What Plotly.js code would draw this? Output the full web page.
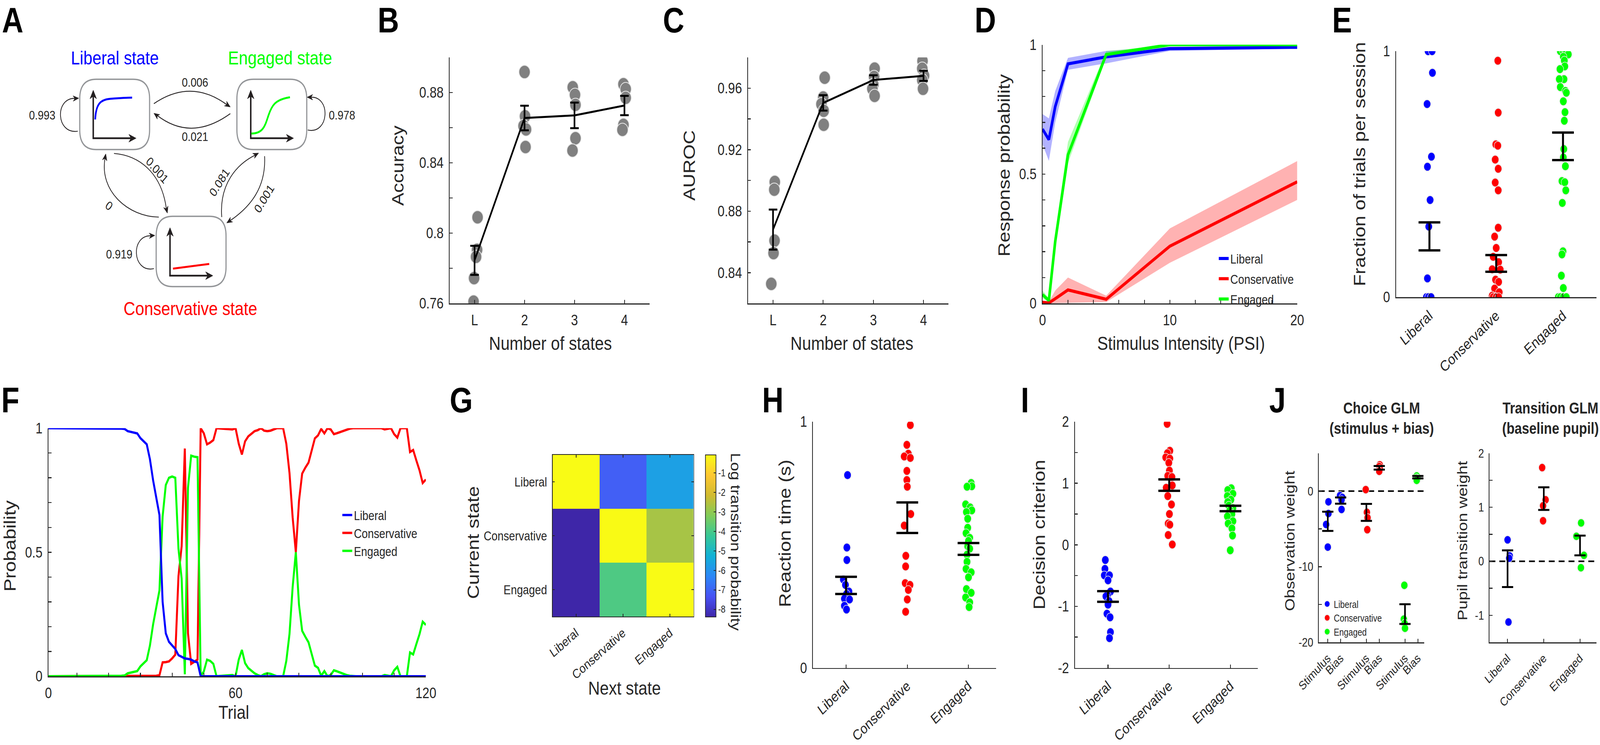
<!DOCTYPE html>
<html><head><meta charset="utf-8">
<script src="https://cdn.plot.ly/plotly-3.0.1.min.js"></script>
<style>html,body{margin:0;padding:0;background:#fff;overflow:hidden;}#wrap{overflow:hidden;width:4856px;height:1908px;}#fig{width:4856px;height:1908px;transform-origin:0 0;}</style>
</head><body><div id="wrap"><div id="fig"></div></div>
<script>
// ================= DATA =================
const stateNames = ['Liberal','Conservative','Engaged'];
// A: state diagram
const A_stateTitles = ['Liberal state','Engaged state','Conservative state'];
const A_transLabels = ['0.993','0.006','0.021','0.001','0','0.919','0.081','0.001','0.978'];
// B: accuracy
const B_cats = [1,2,3,4];
const B_tickText = ['L','2','3','4'];
const B_dots = [[0.809,0.7905,0.7865,0.7744,0.761],[0.8917,0.8665,0.861,0.859,0.849],[0.883,0.8787,0.873,0.854,0.847],[0.8847,0.882,0.877,0.8616,0.8588]];
const B_dx = [[0.06,0.05,0.03,-0.01,-0.02],[0.0,0.01,-0.02,0.03,0.02],[-0.035,0.01,0.02,0.02,-0.04],[-0.02,0.025,0.025,-0.02,-0.04]];
const B_mean = [0.7845,0.8655,0.867,0.8726];
const B_sem = [0.0083,0.007,0.0073,0.0055];
// C: AUROC
const C_dots = [[0.899,0.894,0.8608,0.8527,0.8327],[0.9668,0.9539,0.9496,0.9453,0.9362],[0.9727,0.9673,0.9622,0.9596,0.955],[0.9777,0.9727,0.9681,0.9653,0.9596]];
const C_dx = [[0.035,0.025,0.03,0.01,-0.035],[0.03,0.0,-0.035,0.01,0.01],[0.025,0.015,0,-0.02,0.025],[-0.02,-0.025,0.01,-0.025,-0.01]];
const C_mean = [0.868,0.9504,0.9653,0.968];
const C_sem = [0.013,0.005,0.0031,0.0033];
// D: psychometric curves
const D_x = [0,0.5,1,2,5,10,20];
const D_lib = [0.674,0.633,0.761,0.926,0.953,0.985,0.99];
const D_libHi = [0.732,0.715,0.821,0.949,0.976,0.992,0.995];
const D_libLo = [0.615,0.551,0.70,0.903,0.928,0.976,0.985];
const D_con = [0.004,0.002,0.018,0.052,0.016,0.221,0.47];
const D_conHi = [0.01,0.006,0.05,0.10,0.03,0.29,0.55];
const D_conLo = [0,0,0,0.002,0.005,0.157,0.40];
const D_eng = [0.034,0.011,0.24,0.574,0.962,1.0,1.0];
const D_engHi = [0.05,0.02,0.27,0.624,0.975,1.0,1.0];
const D_engLo = [0.02,0.005,0.21,0.542,0.95,0.998,0.998];
// E: fraction of trials per session
const E_lib = [1,1,0.912,0.785,0.571,0.530,0.395,0.287,0.076,0,0,0];
const E_libDx = [-0.02,0.04,0.045,-0.035,0.03,-0.03,0.01,-0.01,-0.03,-0.045,-0.015,0.025];
const E_con = [0.961,0.75,0.621,0.616,0.559,0.522,0.466,0.434,0.282,0.246,0.2,0.164,0.142,0.113,0.112,0.071,0.062,0.035,0.02,0.006,0,0,0];
const E_conDx = [0.024,0.03,-0.006,0.024,-0.015,0.03,-0.015,0.03,0.03,-0.024,0,-0.045,0.036,-0.06,0.06,-0.01,0.036,-0.024,0.045,-0.06,-0.045,0,0.036];
const E_eng = [1,1,1,1,0.987,0.977,0.962,0.938,0.927,0.886,0.886,0.854,0.838,0.831,0.796,0.752,0.717,0.602,0.568,0.532,0.472,0.467,0.434,0.383,0.186,0.174,0.0875,0.037,0,0,0,0];
const E_engDx = [-0.04,0.005,0.035,0.05,0.08,0.005,0.02,0.027,-0.045,0.015,-0.055,-0.04,0.036,0.05,0.005,0.03,0.02,0.012,0.005,0.036,-0.015,0.027,0.042,-0.01,0,-0.015,-0.024,0.005,-0.07,-0.04,0.005,0.05];
const E_mean = [0.247,0.137,0.613];
const E_sem = [0.057,0.034,0.056];
// F: example session posterior probabilities (trials 1..120)
const F_lib = [1,1,1,1,1,1,1,1,1,1, 1,1,1,1,1,1,1,1,1,1,
  1,1,0.999,0.998,0.997,0.988,0.985,0.982,0.979,0.96,
  0.947,0.935,0.875,0.79,0.72,0.65,0.30,0.173,0.139,0.125,
  0.11,0.085,0.078,0.072,0.07,0.067,0.06,0.056,0,0,
  0,0,0,0,0,0,0,0,0,0, 0,0,0,0,0,0,0,0,0,0, 0,0,0,0,0,0,0,0,0,0,
  0,0,0,0,0,0,0,0,0,0, 0,0,0,0,0,0,0,0,0,0, 0,0,0,0,0,0,0,0,0,0, 0,0,0,0,0,0,0,0,0,0];
const F_con = [0,0,0,0,0,0,0,0,0,0, 0,0,0,0,0,0,0,0,0,0, 0,0,0,0,0,0,0,0,0,0,
  0,0,0.001,0.001,0.002,0.004,0.056,0.057,0.06,0.072,
  0.087,0.404,0.524,0.918,0.173,0.05,0.058,0.067,1.0,0.979,
  0.935,0.942,0.952,1.0,0.999,0.998,0.998,0.996,0.995,1.0,
  0.9375,0.894,0.947,0.967,0.978,0.988,0.992,1.0,0.99,0.988,
  0.99,0.995,1.0,1.0,1.0,0.9375,0.82,0.64,0.5,0.707,
  0.817,0.841,0.861,0.91,0.959,0.971,0.997,0.979,1.0,0.995,
  0.976,0.98,0.985,0.99,0.995,0.998,1,1,1,1,
  1,1,1,1,1,1,0.995,0.997,1.0,0.976,
  0.962,1,1,1,0.904,0.912,0.87,0.83,0.779,0.793];
const F_eng = [0,0,0,0,0,0,0,0,0,0, 0,0,0,0,0,0,0,0,0,0,
  0,0,0,0.002,0.003,0.012,0.015,0.018,0.021,0.04,
  0.053,0.065,0.124,0.209,0.278,0.346,0.644,0.771,0.80,0.805,
  0.80,0.514,0.394,0.008,0.76,0.889,0.885,0.883,0,0.02,
  0.067,0.062,0.05,0,0.001,0.002,0.002,0.004,0.005,0,
  0.067,0.106,0.053,0.033,0.022,0.012,0.005,0,0.008,0.012,
  0.01,0.005,0,0,0,0.062,0.17,0.36,0.5,0.288,
  0.183,0.159,0.137,0.09,0.043,0.034,0.002,0.021,0,0.005,
  0.024,0.02,0.015,0.008,0.005,0.002,0,0,0,0,
  0,0,0,0,0,0,0.005,0.003,0,0.024,
  0.038,0,0,0,0.096,0.088,0.13,0.17,0.22,0.207];
const F_trials = F_lib.map((_, i) => i + 1);
// G: log transition probability (rows: current state, cols: next state)
const G_z = [[-0.007,-7.1,-5.7],[-8.39,-0.084,-2.7],[-8.39,-3.9,-0.022]];
const G_cbTicks = [-8,-7,-6,-5,-4,-3,-2,-1];
// H: reaction time
const H_lib = [0.783,0.489,0.438,0.359,0.337,0.31,0.30,0.281,0.278,0.252,0.237];
const H_libDx = [0.024,0.013,0.013,-0.044,-0.01,0.047,0.007,-0.027,0.057,-0.027,0.007];
const H_con = [0.986,0.906,0.870,0.859,0.853,0.8,0.763,0.736,0.625,0.578,0.455,0.412,0.344,0.337,0.317,0.278,0.228];
const H_conDx = [0.05,-0.007,0.017,-0.05,0.05,-0.007,-0.007,0,0.057,-0.05,-0.024,-0.027,-0.034,0.044,0.017,0,-0.027];
const H_eng = [0.751,0.738,0.736,0.664,0.652,0.640,0.633,0.606,0.569,0.547,0.528,0.516,0.494,0.484,0.46,0.431,0.402,0.388,0.368,0.32,0.305,0.286,0.266,0.247];
const H_engDx = [0.044,0.054,-0.024,-0.047,0.027,0.054,-0.034,-0.013,-0.013,-0.04,0.02,0,-0.013,0.02,-0.024,-0.024,-0.04,0.044,0,-0.034,0.044,-0.047,0.02,0.01];
const H_mean = [0.335,0.61,0.483];
const H_sem = [0.035,0.062,0.024];
// I: decision criterion
const I_lib = [-0.248,-0.391,-0.496,-0.496,-0.578,-0.76,-0.818,-0.837,-0.915,-0.973,-1.12,-1.178,-1.419,-1.516];
const I_libDx = [-0.044,-0.05,-0.06,0.024,0,0.04,-0.01,-0.034,0.017,0,-0.017,0.034,0.04,0.024];
const I_con = [1.965,1.527,1.488,1.419,1.4,1.333,1.205,1.12,1.1,0.965,0.926,0.791,0.655,0.5,0.345,0.326,0.159,0.004];
const I_conDx = [-0.034,0.01,-0.03,-0.057,0.01,-0.007,0.003,-0.024,0.044,0.05,-0.05,-0.024,0.037,0.003,-0.017,0.01,-0.017,0.05];
const I_eng = [0.919,0.888,0.83,0.791,0.733,0.694,0.636,0.597,0.558,0.5,0.461,0.384,0.345,0.267,0.151,-0.089];
const I_engDx = [0.013,-0.044,0.04,-0.05,0.007,-0.044,-0.027,0.04,-0.01,0.024,-0.05,0.04,-0.037,0.024,0.034,-0.003];
const I_mean = [-0.84,0.97,0.59];
const I_sem = [0.086,0.093,0.045];
// J left: choice GLM weights (stimulus, bias) per state
const J1_pos = [[1,2],[4,5],[7,8]];
const J1_tickText = ['Stimulus','Bias','Stimulus','Bias','Stimulus','Bias'];
const J1_stim = [[-1.42,-2.97,-4.42,-7.41],[0.19,-2.81,-3.53,-5.11],[-12.46,-16.94,-17.5,-18.14]];
const J1_stimDx = [[0.05,0.05,-0.13,0],[-0.05,0.04,0.09,0.07],[-0.05,-0.09,-0.03,0]];
const J1_bias = [[-0.6,-0.85,-1.17,-2.43],[3.47,3.25,2.93,2.62],[1.99,1.74,1.61,1.42]];
const J1_biasDx = [[-0.05,0.13,0.07,0.07],[0.04,0,0.04,0],[-0.09,-0.09,-0.03,-0.09]];
const J1_mean = [[-4.0,-1.26],[-2.82,3.075],[-16.27,1.83]];
const J1_sem = [[1.27,0.41],[1.12,0.235],[1.3,0.16]];
// J right: transition GLM (pupil) weights
const J2_vals = [[0.397,0.10,0.057,-1.125],[1.734,1.138,1.028,0.75],[0.71,0.463,0.11,-0.119]];
const J2_dx = [[0,0.06,0.045,0.025],[-0.045,0.05,-0.02,-0.02],[0.03,-0.1,0.11,0.025]];
const J2_mean = [-0.137,1.16,0.293];
const J2_sem = [0.34,0.21,0.183];

// ================= STYLE / LAYOUT =================
const W = 4856, H = 1908;
const X = p => p / W, Y = p => 1 - p / H;
const FONT = 'Liberation Sans, Arial, Helvetica, sans-serif';
const AX = '#262626', INK = '#231f20';
const COL = ['#0000ff', '#ff0000', '#00ff00'];
const DOTLINE = {color: '#e6e6e6', width: 1.5};

function axis(o) {
  return Object.assign({
    showline: true, linecolor: AX, linewidth: 2.5, ticks: 'inside', ticklen: 9, tickwidth: 2.5,
    tickcolor: AX, tickfont: {family: FONT, size: 38, color: AX}, showgrid: false, zeroline: false,
    fixedrange: true, mirror: false, ticklabelstandoff: 8
  }, o);
}
function steps(a, b, s) { const r = []; for (let v = a; v <= b + 1e-9; v += s) r.push(+v.toFixed(4)); return r; }

const layout = {
  width: W, height: H, margin: {l: 0, r: 0, t: 0, b: 0}, paper_bgcolor: '#fff', plot_bgcolor: 'rgba(0,0,0,0)',
  font: {family: FONT, color: AX}, showlegend: true, shapes: [], annotations: [],
  xaxis: axis({domain: [X(1364.5), X(1971)], range: [0.5, 4.5], anchor: 'y', tickvals: B_cats, ticktext: B_tickText}),
  yaxis: axis({domain: [Y(777), Y(147)], range: [0.76, 0.90], anchor: 'x', tickvals: steps(0.76, 0.90, 0.02),
    ticktext: ['0.76', '', '0.8', '', '0.84', '', '0.88', '']}),
  xaxis2: axis({domain: [X(2270), X(2879)], range: [0.5, 4.5], anchor: 'y2', tickvals: B_cats, ticktext: B_tickText}),
  yaxis2: axis({domain: [Y(777), Y(147)], range: [0.82, 0.98], anchor: 'x2', tickvals: steps(0.82, 0.98, 0.02),
    ticktext: ['', '0.84', '', '0.88', '', '0.92', '', '0.96', '']}),
  xaxis3: axis({domain: [X(3164), X(3937)], range: [0, 20], anchor: 'y3', tickvals: steps(0, 20, 2),
    ticktext: ['0', '', '', '', '', '10', '', '', '', '', '20']}),
  yaxis3: axis({domain: [Y(777), Y(114.5)], range: [0, 1], anchor: 'x3', tickvals: steps(0, 1, 0.1),
    ticktext: ['0', '', '', '', '', '0.5', '', '', '', '', '1']}),
  xaxis4: axis({domain: [X(4237), X(4845)], range: [0.5, 3.5], anchor: 'y4', tickvals: [1, 2, 3], ticktext: stateNames, tickangle: -40}),
  yaxis4: axis({domain: [Y(761), Y(131)], range: [0, 1], anchor: 'x4', tickvals: [0, 1], ticktext: ['0', '1']}),
  xaxis5: axis({domain: [X(147), X(1292.5)], range: [1, 120], anchor: 'y5', tickvals: [1].concat(steps(10, 120, 10)),
    ticktext: ['0', '', '', '', '', '', '60', '', '', '', '', '', '120']}),
  yaxis5: axis({domain: [Y(1732), Y(1096.6)], range: [0, 1], anchor: 'x5', tickvals: steps(0, 1, 0.1),
    ticktext: ['0', '', '', '', '', '0.5', '', '', '', '', '1']}),
  xaxis6: axis({domain: [X(1677), X(2105)], anchor: 'y6', mirror: 'ticks', ticklen: 7, tickangle: -37,
    tickfont: {family: FONT, size: 33, color: AX}, linewidth: 2}),
  yaxis6: axis({domain: [Y(1579), Y(1165)], anchor: 'x6', mirror: 'ticks', ticklen: 7, autorange: 'reversed',
    tickfont: {family: FONT, size: 33, color: AX}, linewidth: 2}),
  xaxis7: axis({domain: [X(2467.5), X(3023)], range: [0.46, 3.45], anchor: 'y7', tickvals: [1, 2, 3], ticktext: stateNames,
    tickangle: -40, tickfont: {family: FONT, size: 37, color: AX}}),
  yaxis7: axis({domain: [Y(1710.5), Y(1080)], range: [0, 1], anchor: 'x7', tickvals: [0, 1], ticktext: ['0', '1']}),
  xaxis8: axis({domain: [X(3262.5), X(3818)], range: [0.46, 3.45], anchor: 'y8', tickvals: [1, 2, 3], ticktext: stateNames,
    tickangle: -40, tickfont: {family: FONT, size: 37, color: AX}}),
  yaxis8: axis({domain: [Y(1710.5), Y(1080)], range: [-2, 2], anchor: 'x8', tickvals: steps(-2, 2, 0.5),
    ticktext: ['-2', '', '-1', '', '0', '', '1', '', '2']}),
  xaxis9: axis({domain: [X(4002.5), X(4322.7)], range: [0.3, 8.5], anchor: 'y9', tickvals: [1, 2, 4, 5, 7, 8], ticktext: J1_tickText,
    tickangle: -43, tickfont: {family: FONT, size: 31, color: AX}}),
  yaxis9: axis({domain: [Y(1645), Y(1160.8)], range: [-20, 5], anchor: 'x9', tickvals: steps(-20, 5, 5),
    ticktext: ['-20', '', '-10', '', '0', ''], tickfont: {family: FONT, size: 31, color: AX}}),
  xaxis10: axis({domain: [X(4520.5), X(4844.8)], range: [0.5, 3.45], anchor: 'y10', tickvals: [1, 2, 3], ticktext: stateNames,
    tickangle: -43, tickfont: {family: FONT, size: 31, color: AX}}),
  yaxis10: axis({domain: [Y(1645), Y(1160.8)], range: [-1.5, 2], anchor: 'x10', tickvals: steps(-1.5, 2, 0.5),
    ticktext: ['', '-1', '', '0', '', '1', '', '2'], tickfont: {family: FONT, size: 31, color: AX}}),
  legend: {x: X(3694), y: Y(634), xanchor: 'left', yanchor: 'top', bgcolor: 'rgba(0,0,0,0)',
    font: {family: FONT, size: 33, color: AX}, tracegroupgap: 6, traceorder: 'grouped'},
  legend2: {x: X(1034), y: Y(1291), xanchor: 'left', yanchor: 'top', bgcolor: 'rgba(0,0,0,0)',
    font: {family: FONT, size: 33, color: AX}, traceorder: 'normal'},
  legend3: {x: X(4008), y: Y(1524), xanchor: 'left', yanchor: 'top', bgcolor: 'rgba(0,0,0,0)',
    font: {family: FONT, size: 25, color: AX}, traceorder: 'normal'}
};

const traces = [];
function dots(xa, ya, xc, dx, ys, color, size, extra) {
  traces.push(Object.assign({type: 'scatter', mode: 'markers', xaxis: xa, yaxis: ya,
    x: ys.map((_, j) => xc + dx[j]), y: ys, marker: {size: size, color: color, line: DOTLINE},
    showlegend: false, hoverinfo: 'skip'}, extra || {}));
}
function errs(xa, ya, xs, means, sems, cap, thick) {
  traces.push({type: 'scatter', mode: 'markers', xaxis: xa, yaxis: ya, x: xs, y: means,
    marker: {size: 1, color: 'rgba(0,0,0,0)'},
    error_y: {type: 'data', array: sems, color: '#000', thickness: thick, width: cap},
    showlegend: false, hoverinfo: 'skip'});
}

// ---- B & C ----
[['x', 'y', B_dots, B_dx, B_mean, B_sem], ['x2', 'y2', C_dots, C_dx, C_mean, C_sem]].forEach(p => {
  B_cats.forEach((c, i) => traces.push({type: 'scatter', mode: 'markers', xaxis: p[0], yaxis: p[1],
    x: p[2][i].map((_, j) => c + p[3][i][j]), y: p[2][i],
    marker: {size: 34, color: '#808080', line: {color: '#e6e6e6', width: 2}}, showlegend: false, hoverinfo: 'skip'}));
  traces.push({type: 'scatter', mode: 'lines', xaxis: p[0], yaxis: p[1], x: B_cats, y: p[4],
    line: {color: '#000', width: 5}, error_y: {type: 'data', array: p[5], color: '#000', thickness: 5, width: 13},
    showlegend: false, hoverinfo: 'skip'});
});

// ---- D ----
[[D_libHi, D_libLo, 'rgba(0,0,255,0.3)'], [D_conHi, D_conLo, 'rgba(255,0,0,0.3)'], [D_engHi, D_engLo, 'rgba(0,255,0,0.3)']].forEach(b => {
  traces.push({type: 'scatter', mode: 'lines', xaxis: 'x3', yaxis: 'y3', x: D_x.concat(D_x.slice().reverse()),
    y: b[0].concat(b[1].slice().reverse()), fill: 'toself', fillcolor: b[2], line: {width: 0, color: b[2]},
    showlegend: false, hoverinfo: 'skip'});
});
[[D_lib, 0], [D_con, 1], [D_eng, 2]].forEach(s => {
  traces.push({type: 'scatter', mode: 'lines', xaxis: 'x3', yaxis: 'y3', x: D_x, y: s[0], name: stateNames[s[1]],
    line: {color: COL[s[1]], width: 8}, legend: 'legend', legendgroup: 'd' + s[1], hoverinfo: 'skip'});
});

// ---- E ----
dots('x4', 'y4', 1, E_libDx, E_lib, COL[0], 22);
dots('x4', 'y4', 2, E_conDx, E_con, COL[1], 22);
dots('x4', 'y4', 3, E_engDx, E_eng, COL[2], 22);
errs('x4', 'y4', [1, 2, 3], E_mean, E_sem, 33, 6);

// ---- F ----
[[F_con, 1], [F_eng, 2], [F_lib, 0]].forEach(s => {
  traces.push({type: 'scatter', mode: 'lines', xaxis: 'x5', yaxis: 'y5', x: F_trials, y: s[0], name: stateNames[s[1]],
    line: {color: COL[s[1]], width: 6}, legend: 'legend2', legendrank: s[1] + 1, hoverinfo: 'skip'});
});

// ---- G ----
const parula = [[0, '#3e26a8'], [0.125, '#4852f4'], [0.25, '#2d87f7'], [0.375, '#12b1d6'], [0.5, '#37c897'],
  [0.625, '#81cc59'], [0.75, '#d1bb30'], [0.875, '#fec832'], [1, '#f9fb15']];
traces.push({type: 'heatmap', xaxis: 'x6', yaxis: 'y6', x: stateNames, y: stateNames, z: G_z,
  colorscale: parula, zmin: -8.39, zmax: -0.07, hoverinfo: 'skip',
  colorbar: {x: X(2141), xanchor: 'left', y: Y(1165), yanchor: 'top', len: (1580 - 1165) / H, lenmode: 'fraction',
    thickness: 31.5, xpad: 0, ypad: 0, outlinewidth: 2, outlinecolor: AX, tickvals: G_cbTicks,
    ticktext: G_cbTicks.map(String), ticks: 'inside', ticklen: 7, tickwidth: 2, tickcolor: AX,
    tickfont: {family: FONT, size: 25, color: AX}}});

// ---- H ----
dots('x7', 'y7', 1, H_libDx, H_lib, COL[0], 22);
dots('x7', 'y7', 2, H_conDx, H_con, COL[1], 22);
dots('x7', 'y7', 3, H_engDx, H_eng, COL[2], 22);
errs('x7', 'y7', [1, 2, 3], H_mean, H_sem, 33, 6);

// ---- I ----
dots('x8', 'y8', 1, I_libDx, I_lib, COL[0], 22);
dots('x8', 'y8', 2, I_conDx, I_con, COL[1], 22);
dots('x8', 'y8', 3, I_engDx, I_eng, COL[2], 22);
errs('x8', 'y8', [1, 2, 3], I_mean, I_sem, 33, 6);

// ---- J left ----
[0, 1, 2].forEach(k => {
  const xs = J1_stim[k].map((_, j) => J1_pos[k][0] + J1_stimDx[k][j]).concat(J1_bias[k].map((_, j) => J1_pos[k][1] + J1_biasDx[k][j]));
  traces.push({type: 'scatter', mode: 'markers', xaxis: 'x9', yaxis: 'y9', x: xs, y: J1_stim[k].concat(J1_bias[k]),
    marker: {size: 21, color: COL[k], line: DOTLINE}, name: stateNames[k], legend: 'legend3', hoverinfo: 'skip'});
});
errs('x9', 'y9', [1, 2, 4, 5, 7, 8], [].concat(...J1_mean), [].concat(...J1_sem), 17, 5);

// ---- J right ----
[0, 1, 2].forEach(k => dots('x10', 'y10', k + 1, J2_dx[k], J2_vals[k], COL[k], 21));
errs('x10', 'y10', [1, 2, 3], J2_mean, J2_sem, 17, 5);

['9', '10'].forEach(n => layout.shapes.push({type: 'line', xref: 'x' + n + ' domain', x0: 0, x1: 1, yref: 'y' + n, y0: 0, y1: 0,
  line: {color: '#000', width: 4, dash: '18px,12px'}, layer: 'below'}));

// ================= PANEL A DIAGRAM =================
function P(d) { return d.replace(/(-?\d*\.?\d+),(-?\d*\.?\d+)/g, (m, a, b) => (a / W).toFixed(6) + ',' + (1 - b / H).toFixed(6)); }
function pathShape(d, color, width, fill) {
  return {type: 'path', xref: 'paper', yref: 'paper', path: P(d), line: {color: color, width: width},
    fillcolor: fill || 'rgba(0,0,0,0)', layer: 'above'};
}
function rrect(x0, y0, x1, y1, r) {
  return `M ${x0 + r},${y0} L ${x1 - r},${y0} Q ${x1},${y0} ${x1},${y0 + r} L ${x1},${y1 - r} Q ${x1},${y1} ${x1 - r},${y1} ` +
    `L ${x0 + r},${y1} Q ${x0},${y1} ${x0},${y1 - r} L ${x0},${y0 + r} Q ${x0},${y0} ${x0 + r},${y0} Z`;
}
function head(tx, ty, dx, dy, L, w) {
  const n = Math.hypot(dx, dy), ux = dx / n, uy = dy / n, px = -uy, py = ux;
  const bx = tx - ux * L, by = ty - uy * L, mx = tx - ux * L * 0.7, my = ty - uy * L * 0.7;
  const f = v => v.toFixed(2);
  return `M ${f(tx)},${f(ty)} L ${f(bx + px * w)},${f(by + py * w)} L ${f(mx)},${f(my)} L ${f(bx - px * w)},${f(by - py * w)} Z`;
}
const S = layout.shapes;
[[242, 203, 454, 383], [719, 203, 931, 383], [474, 554, 686, 734]].forEach(b => S.push(pathShape(rrect(b[0], b[1], b[2], b[3], 50), '#939598', 3.5)));
[[283, 354], [761, 354], [516, 706]].forEach(o => {
  const [ox, oy] = o;
  S.push(pathShape(`M ${ox},${oy + 2} L ${ox},${oy - 112}`, INK, 4.5));
  S.push(pathShape(`M ${ox - 2},${oy} L ${ox + 120},${oy}`, INK, 4.5));
  S.push(pathShape(head(ox, oy - 123, 0, -1, 22, 10), INK, 1, INK));
  S.push(pathShape(head(ox + 130, oy, 1, 0, 22, 10), INK, 1, INK));
});
S.push(pathShape('M 289,306 C 291,266 305,255 335,253 S 380,250 401,250', COL[0], 5));
S.push(pathShape('M 763,342 C 800,342 805,320 815,295 S 835,255 880,249', COL[2], 5));
S.push(pathShape('M 525,688 L 635,676', COL[1], 5));
const arrows = [
  ['M 236,336 C 170,345 165,250 228,252', 239, 251.5, 1, -0.05],
  ['M 467,265.5 Q 580,200 690,269', 699, 274, 0.85, 0.5],
  ['M 699,291 Q 580,363.5 476,295', 467, 290, -0.84, -0.55],
  ['M 346,393 C 420,398 490,440 505,535', 508, 546, 0.28, 0.96],
  ['M 482,556 C 390,555 300,490 319,404', 321, 394, 0.2, -1],
  ['M 467,688 C 400,700 395,600 460,604', 470, 603, 1, -0.05],
  ['M 673,556 C 665,470 720,420 775,397', 785, 392, 0.9, -0.42],
  ['M 803,400 C 808,480 760,530 697,566', 688, 571, -0.87, 0.5],
  ['M 934,333 C 1000,345 1005,245 942,249', 932, 249, -1, 0]
];
arrows.forEach(a => { S.push(pathShape(a[0], INK, 2.2)); S.push(pathShape(head(a[1], a[2], a[3], a[4], 17, 7), INK, 1, INK)); });

// ================= TEXT =================
const A = layout.annotations;
function txt(t, x, y, size, o) {
  A.push(Object.assign({text: t, x: X(x), y: Y(y), xref: 'paper', yref: 'paper', xanchor: 'center', yanchor: 'middle',
    showarrow: false, font: {family: FONT, size: size, color: AX}}, o || {}));
}
const transPos = [[128, 295, 0], [592, 211, 0], [592, 350, 0], [477, 436, 45], [331, 527, 40], [362, 651, 0], [666, 467, -54], [801.5, 509, -55], [1038, 295, 0]];
A_transLabels.forEach((t, i) => txt(t, transPos[i][0], transPos[i][1], 32, {textangle: transPos[i][2], font: {family: FONT, size: 32, color: INK}}));
const titlePos = [[348, 148, COL[0]], [850, 148, COL[2]], [578, 790, COL[1]]];
A_stateTitles.forEach((t, i) => txt(t, titlePos[i][0], titlePos[i][1], 49, {font: {family: FONT, size: 49, color: titlePos[i][2]}}));
// panel letters: top row anchored to the top edge
[['A', 38], ['B', 1178], ['C', 2044], ['D', 2990], ['E', 4073]].forEach(l =>
  txt('<b>' + l[0] + '</b>', l[1], 0, 90, {yanchor: 'top', font: {family: FONT, size: 90, color: '#000'}}));
[['F', 31, 1025], ['G', 1400, 1025], ['H', 2345, 1025], ['I', 3110, 1025], ['J', 3877, 1025]].forEach(l =>
  txt('<b>' + l[0] + '</b>', l[1], l[2], 90, {font: {family: FONT, size: 90, color: '#000'}}));
[['Number of states', 1671, 879, 0, 49], ['Accuracy', 1208, 424, -90, 50], ['Number of states', 2585, 879, 0, 49],
 ['AUROC', 2092, 424, -90, 50], ['Stimulus Intensity (PSI)', 3584, 879, 0, 49], ['Response probability', 3048, 424, -90, 50],
 ['Fraction of trials per session', 4127, 421, -90, 50], ['Probability', 31, 1399, -90, 50], ['Trial', 709, 1824, 0, 49],
 ['Current state', 1436, 1390, -90, 50], ['Next state', 1895, 1762, 0, 49], ['Log transition probability', 2233, 1387, 90, 42],
 ['Reaction time (s)', 2383, 1366, -90, 50], ['Decision criterion', 3154, 1370, -90, 50],
 ['Observation weight', 3914, 1385, -90, 42], ['Pupil transition weight', 4438, 1385, -90, 42]].forEach(t =>
  txt(t[0], t[1], t[2], t[4], {textangle: t[3]}));
txt('<b>Choice GLM<br>(stimulus + bias)</b>', 4193, 1071, 40, {font: {family: FONT, size: 40, color: AX}});
txt('<b>Transition GLM<br>(baseline pupil)</b>', 4705, 1071, 40, {font: {family: FONT, size: 40, color: AX}});

const figDiv = document.getElementById('fig');
Plotly.newPlot(figDiv, traces, layout, {staticPlot: true, displayModeBar: false}).then(() => {
  // fit the fixed 4856x1908 figure into the actual CSS viewport
  const vw = document.documentElement.clientWidth || window.innerWidth || W;
  const vh = window.innerHeight || H;
  const kx = vw / W, ky = vh / H;
  if (Math.abs(kx - 1) > 0.003 || Math.abs(ky - 1) > 0.003) {
    figDiv.style.transform = 'scale(' + kx + ',' + ky + ')';
    const wrap = document.getElementById('wrap');
    wrap.style.width = (W * kx) + 'px';
    wrap.style.height = (H * ky) + 'px';
  }
});
</script>
</body></html>
